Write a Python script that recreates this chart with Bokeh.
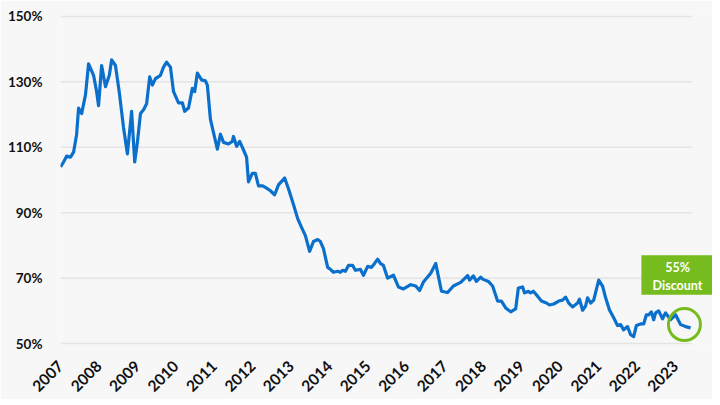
import math
from bokeh.plotting import figure
from bokeh.models import Range1d, FixedTicker, PrintfTickFormatter
from bokeh.core.properties import value
from bokeh.embed import file_html
from bokeh.resources import INLINE

# ---- data ----
dates = [
    2007.00, 2007.08, 2007.16, 2007.26, 2007.34, 2007.42, 2007.47, 2007.55, 2007.65, 2007.73,
    2007.86, 2007.94, 2007.99, 2008.07, 2008.17, 2008.27, 2008.33, 2008.43, 2008.53, 2008.64,
    2008.74, 2008.85, 2008.93, 2009.00, 2009.08, 2009.16, 2009.24, 2009.32, 2009.39, 2009.47,
    2009.60, 2009.68, 2009.76, 2009.86, 2009.94, 2010.07, 2010.17, 2010.23, 2010.33, 2010.43,
    2010.49, 2010.56, 2010.67, 2010.77, 2010.82, 2010.90, 2010.98, 2011.08, 2011.16, 2011.24,
    2011.37, 2011.47, 2011.50, 2011.58, 2011.66, 2011.73, 2011.84, 2011.89, 2011.99, 2012.07,
    2012.15, 2012.26, 2012.36, 2012.46, 2012.57, 2012.67, 2012.83, 2012.93, 2013.04, 2013.17,
    2013.27, 2013.37, 2013.48, 2013.58, 2013.69, 2013.76, 2013.84, 2013.95, 2014.02, 2014.10,
    2014.21, 2014.28, 2014.34, 2014.41, 2014.49, 2014.60, 2014.67, 2014.80, 2014.88, 2014.99,
    2015.09, 2015.17, 2015.25, 2015.32, 2015.40, 2015.51, 2015.66, 2015.79, 2015.92, 2016.11,
    2016.24, 2016.34, 2016.44, 2016.63, 2016.76, 2016.91, 2017.07, 2017.22, 2017.41, 2017.59,
    2017.64, 2017.74, 2017.82, 2017.93, 2017.98, 2018.13, 2018.24, 2018.37, 2018.47, 2018.58,
    2018.71, 2018.84, 2018.91, 2019.02, 2019.07, 2019.17, 2019.23, 2019.30, 2019.41, 2019.51,
    2019.64, 2019.72, 2019.83, 2019.96, 2020.06, 2020.14, 2020.22, 2020.32, 2020.45, 2020.50,
    2020.58, 2020.66, 2020.71, 2020.79, 2020.87, 2021.00, 2021.10, 2021.18, 2021.28, 2021.39,
    2021.49, 2021.57, 2021.65, 2021.75, 2021.83, 2021.91, 2021.98, 2022.09, 2022.17, 2022.24,
    2022.30, 2022.37, 2022.43, 2022.48, 2022.56, 2022.66, 2022.74, 2022.87, 2023.00, 2023.13,
    2023.26, 2023.39,
]
ratio = [
    104.0, 105.5, 107.3, 107.0, 108.5, 114.0, 122.0, 120.3, 126.0, 135.5,
    132.0, 127.0, 122.7, 135.0, 128.5, 132.0, 136.7, 135.0, 126.7, 116.0,
    108.0, 121.0, 105.5, 111.5, 120.3, 121.5, 123.3, 131.5, 129.0, 131.0,
    132.0, 134.5, 136.0, 134.5, 127.0, 123.6, 123.6, 121.0, 122.0, 128.0,
    127.0, 132.7, 130.6, 130.3, 129.0, 118.5, 114.5, 109.4, 114.0, 111.5,
    111.0, 111.8, 113.3, 110.3, 111.8, 110.0, 107.0, 99.4, 102.0, 102.0,
    98.2, 98.2, 97.5, 96.7, 95.5, 98.5, 100.6, 97.3, 93.3, 88.2,
    85.5, 83.0, 78.2, 81.2, 81.8, 81.2, 79.0, 73.3, 72.7, 71.8,
    72.1, 71.8, 72.4, 72.1, 73.9, 73.9, 72.4, 72.7, 70.9, 73.6,
    73.3, 74.5, 75.8, 74.5, 73.9, 70.0, 70.9, 67.3, 66.7, 68.0,
    67.6, 66.2, 68.8, 71.5, 74.5, 66.0, 65.6, 67.6, 68.7, 70.8,
    69.4, 70.7, 69.0, 70.3, 69.7, 69.0, 67.6, 63.0, 63.0, 60.9,
    59.7, 60.6, 67.0, 67.3, 65.5, 66.0, 65.5, 66.0, 64.5, 63.0,
    62.4, 61.8, 62.1, 63.0, 63.3, 64.2, 62.4, 61.2, 62.4, 63.6,
    60.2, 61.5, 64.0, 62.4, 63.3, 69.4, 67.6, 64.0, 60.3, 57.9,
    55.5, 55.8, 54.2, 55.2, 52.7, 52.1, 55.5, 56.0, 56.0, 58.8,
    58.8, 59.7, 57.3, 59.4, 60.0, 57.6, 59.4, 57.3, 58.8, 55.8,
    55.2, 54.8,
]
x_ticks = list(range(2007, 2024))
y_ticks = [50, 70, 90, 110, 130, 150]
callout_lines = ["55%", "Discount"]

BG = "#f7f7f7"
BLUE = "#0b6fcc"
GREEN = "#77bc1f"
FONT = "Lato"

p = figure(width=712, height=399, output_backend="svg", toolbar_location=None,
           x_range=Range1d(2007, 2023.96), y_range=Range1d(48.5, 151.5),
           min_border_left=60, min_border_right=0, min_border_top=11, min_border_bottom=48)
p.background_fill_color = BG
p.border_fill_color = BG
p.outline_line_color = None
p.xgrid.visible = False
p.ygrid.visible = False

# custom grid lines ending at the last data point
p.segment(x0=[dates[0]] * len(y_ticks), x1=[dates[-1] + 0.03] * len(y_ticks),
          y0=y_ticks, y1=y_ticks, line_color="#e4e4e4", line_width=1.5)

p.line(dates, ratio, line_color=BLUE, line_width=3.2, line_join="round")

# axes styling
p.xaxis.ticker = FixedTicker(ticks=x_ticks)
p.yaxis.ticker = FixedTicker(ticks=y_ticks)
p.yaxis.formatter = PrintfTickFormatter(format="%d%%")
for ax in (p.xaxis, p.yaxis):
    ax.axis_line_color = None
    ax.major_tick_line_color = None
    ax.minor_tick_line_color = None
    ax.major_label_text_font = FONT
    ax.major_label_text_font_style = "bold"
    ax.major_label_text_color = "#111111"
p.xaxis.major_label_orientation = math.pi / 4
p.xaxis.major_label_text_font_size = "15.5px"
p.xaxis.major_label_standoff = 9
p.yaxis.major_label_text_font_size = "13.5px"
p.yaxis.major_label_standoff = 12

# callout
p.quad(left=[2022.11], right=[2023.98], top=[77.0], bottom=[64.9],
       fill_color=GREEN, line_color=None)
p.text(x=[2023.05, 2023.05], y=[73.3, 67.9], text=callout_lines,
       text_color="white", text_font=value(FONT), text_font_style="bold",
       text_font_size="12.5px", text_align="center", text_baseline="middle")
p.scatter(x=[2023.23], y=[55.8], marker="circle", size=32,
          fill_color=None, line_color=GREEN, line_width=3)

open("out.html", "w").write(file_html(p, INLINE))
